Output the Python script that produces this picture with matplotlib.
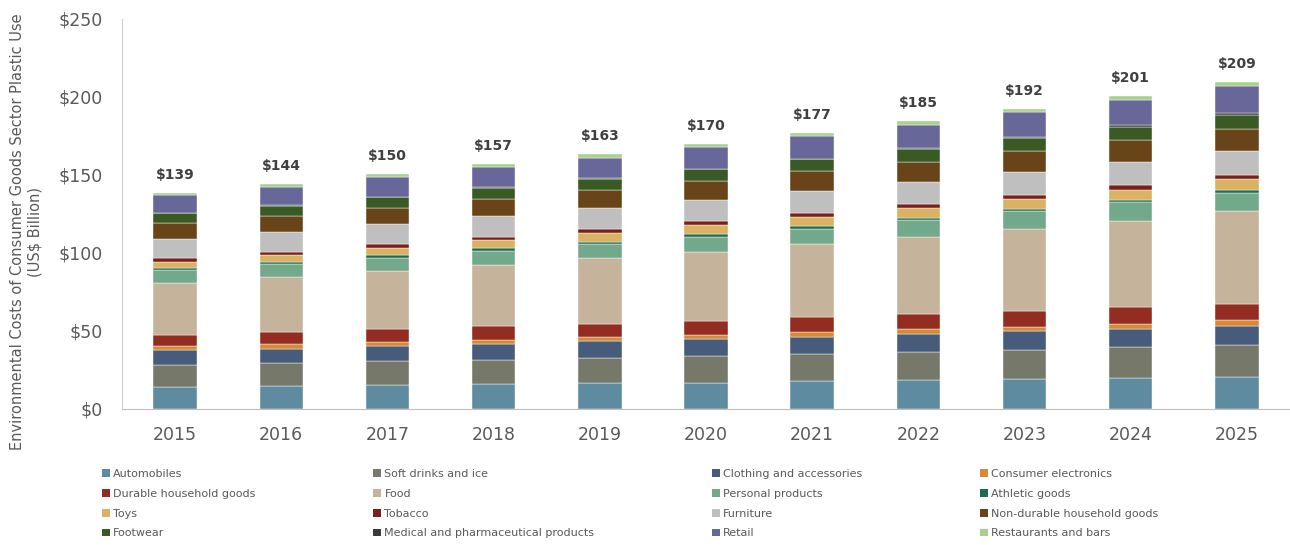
import numpy as np
import matplotlib
matplotlib.use("Agg")
import matplotlib.pyplot as plt
from matplotlib.patches import Patch

# values (US$ billion)
years = ["2015", "2016", "2017", "2018", "2019", "2020", "2021", "2022", "2023", "2024", "2025"]
totals = [139, 144, 150, 157, 163, 170, 177, 185, 192, 201, 209]

automobiles = [14.1, 14.7, 15.4, 15.8, 16.5, 16.9, 17.9, 18.8, 19.4, 20.1, 20.7]
soft_drinks = [14.1, 14.6, 15.2, 15.8, 16.2, 16.9, 17.1, 17.8, 18.6, 19.5, 20.1]
clothing = [9.4, 9.4, 9.8, 10.3, 10.7, 10.9, 11.3, 11.7, 11.8, 11.9, 12.6]
electronics = [2.6, 3.0, 2.8, 2.6, 2.8, 3.0, 3.2, 3.0, 2.9, 3.2, 3.4]
durable = [7.5, 7.7, 7.9, 8.6, 8.5, 8.7, 9.2, 9.8, 10.3, 10.5, 10.5]
food = [32.9, 35.3, 37.4, 39.3, 41.9, 44.5, 47.0, 49.4, 52.6, 55.5, 59.4]
personal = [8.3, 8.1, 8.5, 9.2, 9.4, 9.6, 9.8, 10.7, 11.2, 11.8, 12.0]
athletic = [1.3, 1.5, 1.5, 1.3, 1.3, 1.5, 1.7, 1.5, 1.7, 1.5, 1.5]
toys = [4.3, 4.5, 4.9, 5.4, 5.6, 5.8, 5.8, 6.2, 6.2, 6.6, 7.0]
tobacco = [2.1, 2.1, 2.2, 2.1, 2.4, 2.4, 2.6, 2.6, 2.8, 3.0, 2.8]
furniture = [12.4, 12.8, 12.8, 13.3, 13.5, 13.7, 14.1, 14.1, 14.6, 14.9, 15.2]
non_durable = [10.0, 10.3, 10.6, 10.9, 11.5, 12.0, 12.6, 13.0, 13.3, 13.7, 14.5]
footwear = [6.4, 6.4, 6.7, 7.1, 7.1, 7.7, 7.7, 7.9, 8.3, 8.7, 9.0]
medical = [0.5, 0.5, 0.5, 0.5, 0.5, 0.5, 0.5, 0.7, 0.8, 0.9, 0.8]
retail = [11.0, 11.3, 12.3, 12.7, 13.3, 14.0, 14.4, 14.7, 15.6, 16.2, 17.5]
restaurants = [1.7, 1.9, 1.9, 2.2, 2.2, 1.9, 2.1, 2.4, 2.4, 2.6, 2.6]

sectors = [
    ("Automobiles", automobiles, "#5f8ba0"),
    ("Soft drinks and ice", soft_drinks, "#76796a"),
    ("Clothing and accessories", clothing, "#475c7a"),
    ("Consumer electronics", electronics, "#d78a35"),
    ("Durable household goods", durable, "#932d22"),
    ("Food", food, "#c6b39b"),
    ("Personal products", personal, "#72a98a"),
    ("Athletic goods", athletic, "#1e6b50"),
    ("Toys", toys, "#d9b263"),
    ("Tobacco", tobacco, "#7a1f1a"),
    ("Furniture", furniture, "#bfbfbf"),
    ("Non-durable household goods", non_durable, "#6a4419"),
    ("Footwear", footwear, "#3a5a25"),
    ("Medical and pharmaceutical products", medical, "#3a3a3a"),
    ("Retail", retail, "#67679a"),
    ("Restaurants and bars", restaurants, "#a9d18e"),
]

grey = "#595959"

fig = plt.figure(figsize=(12.9, 5.45), dpi=100)
ax = fig.add_axes([122 / 1290, 1 - 409 / 545, 1 - 122 / 1290, (409 - 19) / 545])

x = np.arange(len(years))
bottom = np.zeros(len(years))
for name, vals, col in sectors:
    ax.bar(x, vals, 0.41, bottom=bottom, color=col, edgecolor="white", linewidth=0.3)
    bottom += np.array(vals)

# total labels on top of each stack
for i in range(len(years)):
    ax.annotate(f"${totals[i]}", (x[i], bottom[i]), xytext=(0, 8), textcoords="offset points",
                ha="center", va="bottom", fontsize=10, fontweight="bold", color="#404040")

ax.set_xlim(-0.5, len(years) - 0.5)
ax.set_ylim(0, 250)
ax.set_yticks([0, 50, 100, 150, 200, 250])
ax.set_yticklabels([f"${v}" for v in [0, 50, 100, 150, 200, 250]])
ax.set_xticks(x)
ax.set_xticklabels(years)
ax.tick_params(axis="y", length=0, pad=14, labelsize=12.5, labelcolor=grey)
ax.tick_params(axis="x", length=0, pad=12, labelsize=12.5, labelcolor=grey)
for s in ["top", "right"]:
    ax.spines[s].set_visible(False)
ax.spines["left"].set_color("#d0d0d0")
ax.spines["bottom"].set_color("#bfbfbf")

fig.text(26 / 1290, 1 - 232 / 545,
         "Environmental Costs of Consumer Goods Sector Plastic Use\n(US$ Billion)",
         rotation=90, ha="center", va="center", multialignment="center",
         fontsize=10.5, color=grey)

# legend fills column by column, so reorder to get the row-wise order
handles = [Patch(facecolor=c, edgecolor="none") for _, _, c in sectors]
labels = [n for n, _, _ in sectors]
order = [r * 4 + c for c in range(4) for r in range(4)]
fig.legend([handles[i] for i in order], [labels[i] for i in order],
           loc="upper left", bbox_to_anchor=(102 / 1290, 1 - 469 / 545), ncol=4,
           frameon=False, fontsize=8, labelcolor=grey, handlelength=0.7, handleheight=0.7,
           handletextpad=0.3, labelspacing=0.88, columnspacing=10.6, borderaxespad=0, borderpad=0)

fig.savefig("out.png", dpi=100)
